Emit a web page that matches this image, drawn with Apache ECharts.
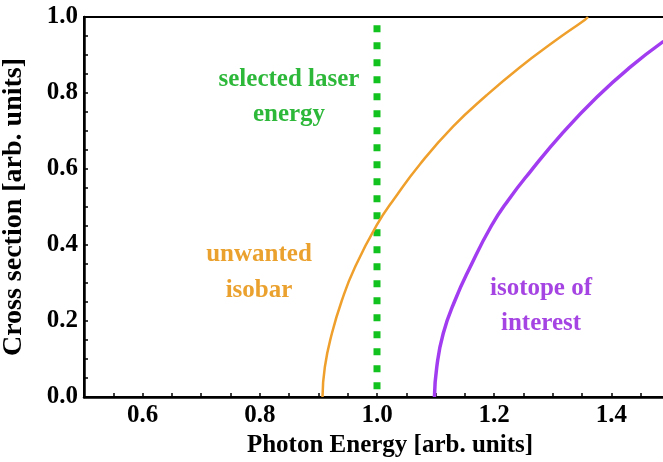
<!DOCTYPE html>
<html>
<head>
<meta charset="utf-8">
<script src="https://cdn.jsdelivr.net/npm/echarts@6/dist/echarts.min.js"></script>
<style>
    html, body {margin: 0; padding: 0; background: #fff;}
    #main {width: 663px; height: 462px;}
</style>
</head>
<body>
<div id="main"></div>
<script>
// unwanted isobar (orange)
var isobarX = [0.907, 0.911, 0.923, 0.940, 0.962, 0.9995, 1.031, 1.073, 1.130, 1.187, 1.244, 1.301, 1.355, 1.36];
var isobarY = [0.000, 0.079, 0.167, 0.254, 0.340, 0.452, 0.525, 0.612, 0.712, 0.794, 0.868, 0.934, 0.993, 1.0];

// isotope of interest (purple)
var isotopeX = [1.098, 1.102, 1.113, 1.133, 1.159, 1.195, 1.224, 1.261, 1.318, 1.375, 1.432, 1.489];
var isotopeY = [0.000, 0.079, 0.167, 0.254, 0.342, 0.450, 0.518, 0.592, 0.697, 0.789, 0.868, 0.936];

// selected laser energy (green dotted)
var laserX = [1.0, 1.0];
var laserY = [0.978, 0.0];

var xTicks = [0.6, 0.8, 1.0, 1.2, 1.4];

function pairs(xs, ys) {
    var out = [];
    for (var i = 0; i < xs.length; i++) {
        out.push([xs[i], ys[i]]);
    }
    return out;
}

RenderCrossSection();

/**
 * cross section vs photon energy
 */
function RenderCrossSection() {
    var dom = document.getElementById("main");
    var myChart = echarts.init(dom, null, {renderer: 'canvas'});
    var serif = 'Liberation Serif';
    var option;

    option = {
        animation: false,
        grid: {
            left: 84,
            right: -7,
            top: 17,
            bottom: 65,
            show: true,
            borderColor: '#000',
            borderWidth: 2,
            containLabel: false,
            outerBoundsMode: 'none'
        },
        xAxis: {
            type: 'value',
            min: 0.5,
            max: 1.5,
            interval: 0.1,
            name: 'Photon Energy [arb. units]',
            nameLocation: 'middle',
            nameGap: 30,
            nameTextStyle: {
                fontFamily: serif,
                fontWeight: 'bold',
                fontSize: 25,
                color: '#000',
                padding: [0, 0, 0, 26]
            },
            axisLine: {lineStyle: {color: '#000', width: 2.5}},
            axisTick: {inside: true, length: 4, lineStyle: {color: '#000', width: 1.5}},
            minorTick: {show: true, splitNumber: 2, length: 4, lineStyle: {color: '#000', width: 1.5}},
            splitLine: {show: false},
            axisLabel: {
                margin: 6,
                fontFamily: serif,
                fontWeight: 'bold',
                fontSize: 25,
                color: '#000',
                formatter: function (v) {
                    for (var i = 0; i < xTicks.length; i++) {
                        if (Math.abs(v - xTicks[i]) < 1e-6) return xTicks[i].toFixed(1);
                    }
                    return '';
                }
            }
        },
        yAxis: {
            type: 'value',
            min: 0,
            max: 1,
            interval: 0.2,
            name: 'Cross section [arb. units]',
            nameLocation: 'middle',
            nameGap: 56,
            nameTextStyle: {
                fontFamily: serif,
                fontWeight: 'bold',
                fontSize: 28,
                color: '#000'
            },
            axisLine: {show: true, lineStyle: {color: '#000', width: 2.5}},
            axisTick: {show: true, inside: true, length: 4, lineStyle: {color: '#000', width: 1.5}},
            minorTick: {show: true, splitNumber: 4, length: 4, lineStyle: {color: '#000', width: 1.5}},
            splitLine: {show: false},
            axisLabel: {
                margin: 6,
                fontFamily: serif,
                fontWeight: 'bold',
                fontSize: 25,
                color: '#000',
                formatter: function (v) { return v.toFixed(1); }
            }
        },
        series: [{
            name: 'laser',
            type: 'line',
            data: pairs(laserX, laserY),
            symbol: 'none',
            lineStyle: {color: '#12C21E', width: 7, type: [7, 10], cap: 'butt'},
            z: 3
        }, {
            name: 'isobar',
            type: 'line',
            data: pairs(isobarX, isobarY),
            smooth: 0.5,
            symbol: 'none',
            lineStyle: {color: '#EFA02C', width: 2.5},
            z: 4
        }, {
            name: 'isotope',
            type: 'line',
            data: pairs(isotopeX, isotopeY),
            smooth: 0.5,
            symbol: 'none',
            lineStyle: {color: '#A23CF0', width: 3.5},
            z: 4
        }],
        graphic: [{
            type: 'text',
            x: 289, y: 97,
            style: {
                text: 'selected laser\nenergy',
                fontFamily: serif,
                fontWeight: 'bold',
                fontSize: 25,
                fill: '#2DB83A',
                align: 'center',
                verticalAlign: 'middle',
                lineHeight: 35
            }
        }, {
            type: 'text',
            x: 259, y: 273,
            style: {
                text: 'unwanted\nisobar',
                fontFamily: serif,
                fontWeight: 'bold',
                fontSize: 25,
                fill: '#EBA12E',
                align: 'center',
                verticalAlign: 'middle',
                lineHeight: 36
            }
        }, {
            type: 'text',
            x: 541, y: 306,
            style: {
                text: 'isotope of\ninterest',
                fontFamily: serif,
                fontWeight: 'bold',
                fontSize: 25,
                fill: '#A544E2',
                align: 'center',
                verticalAlign: 'middle',
                lineHeight: 35
            }
        }]
    };

    if (option && typeof option === 'object') {
        myChart.setOption(option);
    }

    window.addEventListener('resize', function () {
        myChart.resize();
    });
}
</script>
</body>
</html>
